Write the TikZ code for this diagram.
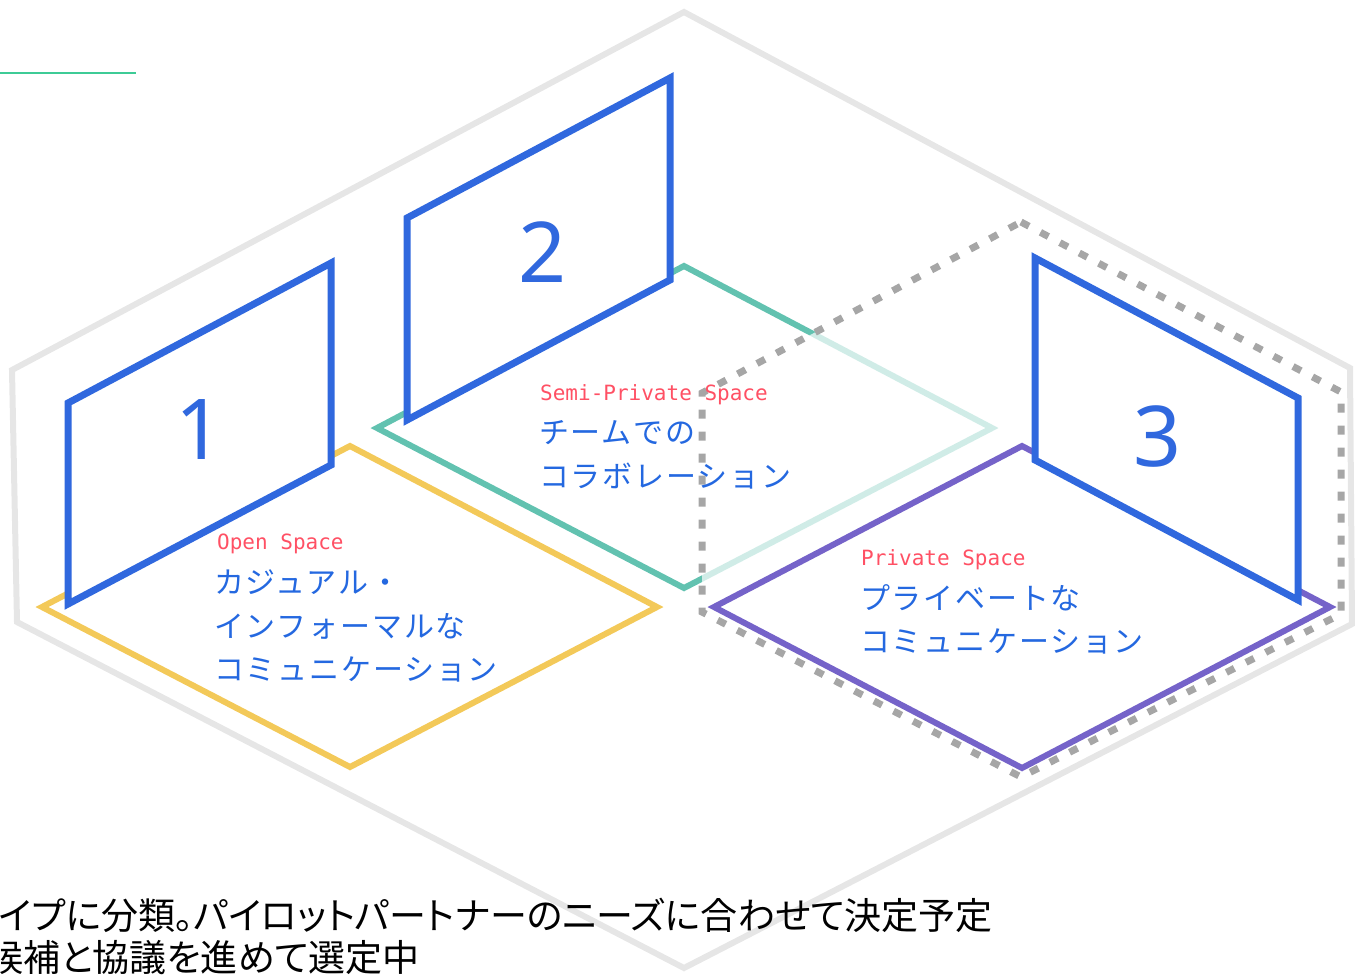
\documentclass[tikz,border=0pt]{standalone}
\usepackage{fontspec}
\setmainfont{Noto Sans}
\newfontfamily\jplsfont[LetterSpace=6]{Noto Sans CJK JP}
\newfontfamily\jppfont[RawFeature=+palt]{Noto Sans CJK JP}
\newfontfamily\monofont{DejaVu Sans Mono}
\newfontfamily\numfont{Noto Sans}
\definecolor{hexgray}{HTML}{E6E6E6}
\definecolor{accentgreen}{HTML}{3DCB96}
\definecolor{openyellow}{HTML}{F3C959}
\definecolor{panelblue}{HTML}{3068DE}
\definecolor{semiteal}{HTML}{62C2B0}
\definecolor{privpurple}{HTML}{7563C9}
\definecolor{dashgray}{HTML}{A6A6A6}
\definecolor{labelred}{HTML}{FF5064}
\definecolor{textblue}{HTML}{2468E0}
\tikzset{
  outerhex/.style={draw=hexgray, line width=6pt, line join=miter},
  panel/.style={draw=panelblue, fill=white, line width=7pt, line join=miter},
  floor/.style={line width=6pt, line join=miter},
  privzone/.style={draw=dashgray, line width=7pt, dash pattern=on 9pt off 13pt},
  enlabel/.style={inner sep=0pt, anchor=base west, text=labelred, font=\monofont\fontsize{21}{21}\selectfont},
  jplabel/.style={inner sep=0pt, anchor=west, text=textblue, font=\jplsfont\fontsize{30}{30}\selectfont},
  bignum/.style={inner sep=0pt, anchor=center, text=panelblue, font=\numfont\fontsize{84}{84}\selectfont},
  caption/.style={inner sep=0pt, text=black, font=\jppfont\fontsize{37}{37}\selectfont}
}
\begin{document}
\begin{tikzpicture}[x=1pt, y=-1pt]
\useasboundingbox (0,0) rectangle (1355,975);
\clip (0,0) rectangle (1355,975);
% outer hexagon
\draw[outerhex] (684,12) -- (1350,368) -- (1352,624) -- (684,968) -- (17,622) -- (12,370) -- cycle;
% accent line
\coordinate (al1) at (0,73);
\coordinate (al2) at (136,73);
\draw[accentgreen, line width=2pt] (al1) -- (al2);
% semi-private floor
\draw[floor, draw=semiteal] (377,428) -- (684,266) -- (992,428) -- (684,588) -- cycle;
% private zone (fades what lies under it)
\fill[white, opacity=0.7] (1021,222) -- (1341,392) -- (1341,614) -- (1021,777) -- (702,612) -- (702,393) -- cycle;
\draw[privzone] (1021,222) -- (1341,392) -- (1341,614) -- (1021,777) -- (702,612) -- (702,393) -- cycle;
% open floor
\draw[floor, draw=openyellow] (42,607) -- (350,446) -- (657,607) -- (350,767) -- cycle;
% private floor
\draw[floor, draw=privpurple] (714,607) -- (1022,446) -- (1330,607) -- (1022,768) -- cycle;
% panels
\draw[panel] (68,403) -- (331,263) -- (331,465) -- (68,604) -- cycle;
\draw[panel] (407,218) -- (670,78) -- (670,280) -- (407,420) -- cycle;
\draw[panel] (1035,258) -- (1298,398) -- (1298,600) -- (1035,460) -- cycle;
% numbers
\node[bignum] (n1) at (200,430) {1};
\node[bignum] (n2) at (543,252) {2};
\node[bignum] (n3) at (1158,437) {3};
% labels: open
\node[enlabel] (openlbl) at (217,549) {Open Space};
\node[jplabel] (open1) at (214,582) {カジュアル・};
\node[jplabel] (open2) at (214,626) {インフォーマルな};
\node[jplabel] (open3) at (214,669) {コミュニケーション};
% labels: semi-private
\node[enlabel] (semilbl) at (540,400) {Semi-Private Space};
\node[jplabel] (semi1) at (539,433) {チームでの};
\node[jplabel] (semi2) at (539,476) {コラボレーション};
% labels: private
\node[enlabel] (privlbl) at (861,565) {Private Space};
\node[jplabel] (priv1) at (860,598) {プライベートな};
\node[jplabel] (priv2) at (860,641) {コミュニケーション};
% caption
\node[caption, anchor=west] (cap1) at (-1,915) {イプに分類。パイロットパートナーのニーズに合わせて決定予定};
\node[caption, anchor=east] (cap2) at (420,958) {候補と協議を進めて選定中};
\end{tikzpicture}
\end{document}
